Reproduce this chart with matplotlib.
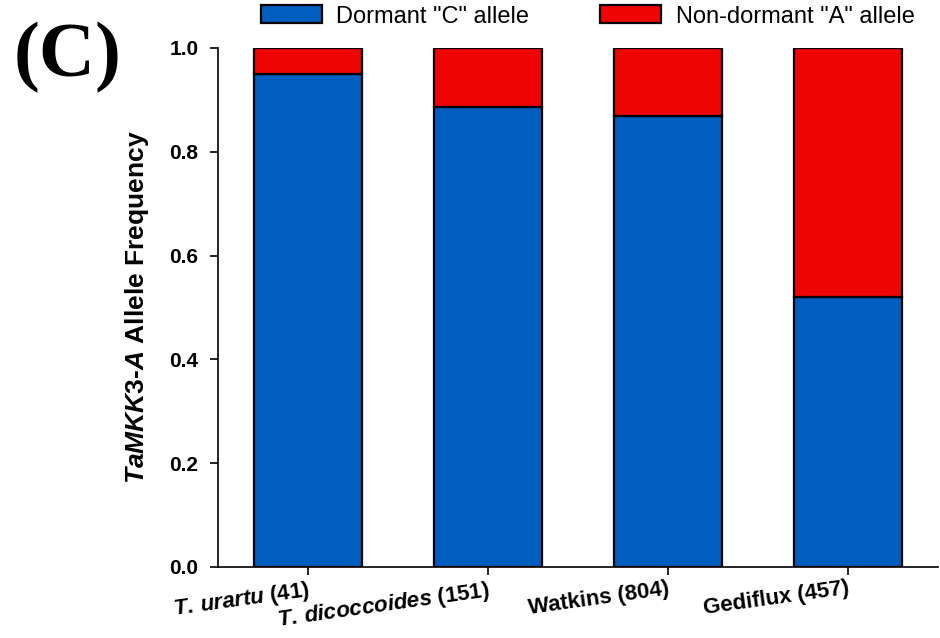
import numpy as np
import matplotlib.pyplot as plt
from matplotlib import rcParams
from matplotlib.patches import Patch

rcParams['font.family'] = 'Liberation Sans'
rcParams['mathtext.fontset'] = 'custom'
rcParams['mathtext.it'] = 'Liberation Sans:italic:bold'
rcParams['mathtext.rm'] = 'Liberation Sans:bold'
rcParams['mathtext.bf'] = 'Liberation Sans:bold'

groups = [r"$T.\,urartu$ (41)", r"$T.\,dicoccoides$ (151)", "Watkins (804)", "Gediflux (457)"]
dormant_C = [0.950, 0.887, 0.868, 0.521]
nondormant_A = [1 - v for v in dormant_C]

BLUE = '#005EBE'
RED = '#F00505'

fig = plt.figure(figsize=(9.4, 6.38), dpi=100)
ax = fig.add_axes([0.2319, 0.1113, 0.7660, 0.8135])

x = np.arange(len(groups))
ax.bar(x, dormant_C, width=0.6, color=BLUE, edgecolor='black', linewidth=1.6)
ax.bar(x, nondormant_A, width=0.6, bottom=dormant_C, color=RED, edgecolor='black', linewidth=1.6)

ax.set_xlim(-0.5, 3.5)
ax.set_ylim(0, 1.0)
ax.set_yticks(np.arange(0, 1.01, 0.2))
ax.set_yticklabels(['%.1f' % v for v in np.arange(0, 1.01, 0.2)], fontsize=15, fontweight='bold')
ax.set_xticks(x)
ax.set_xticklabels(groups, fontsize=16, fontweight='bold', rotation=8, ha='right', rotation_mode='anchor')

ax.spines['top'].set_visible(False)
ax.spines['right'].set_visible(False)
ax.spines['left'].set_linewidth(1.2)
ax.spines['bottom'].set_linewidth(1.2)
ax.tick_params(direction='out', length=6, width=1.2, pad=8)
ax.tick_params(axis='x', pad=2)

ax.set_ylabel(r"$TaMKK3$-$A$ Allele Frequency", fontsize=19, fontweight='bold', labelpad=13)

handles = [Patch(facecolor=BLUE, edgecolor='black', linewidth=1.6, label='Dormant "C" allele'),
           Patch(facecolor=RED, edgecolor='black', linewidth=1.6, label='Non-dormant "A" allele')]
fig.legend(handles=handles, loc='upper center', bbox_to_anchor=(0.625, 1.025), ncol=2, frameon=False,
           fontsize=17, handlelength=2.6, handleheight=0.8, columnspacing=3.0, handletextpad=0.6)

fig.text(0.015, 0.965, "(C)", fontsize=56, fontweight='bold', family='Liberation Serif', va='top')

plt.savefig('out.png', dpi=100)
